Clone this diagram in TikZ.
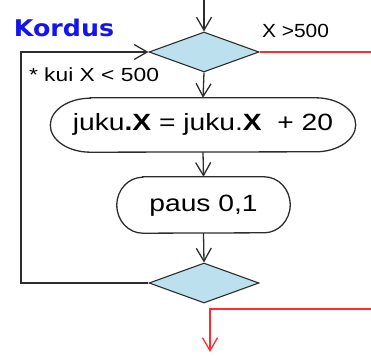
\documentclass[tikz,border=0pt]{standalone}
\usepackage{fontspec}
\setmainfont{Liberation Sans}
\newfontfamily\kordusfont{DejaVu Sans}
\usetikzlibrary{arrows.meta,shapes.geometric}
\definecolor{dfill}{RGB}{188,224,238}
\definecolor{lgray}{RGB}{45,45,45}
\definecolor{rline}{RGB}{255,45,45}
\definecolor{kblue}{RGB}{20,20,240}
\newcommand\stretched[2][1.2]{\scalebox{#1}[1]{#2}}
\newcommand\termoutline[3]{%
  \draw[line] ([xshift=#2]#1.north west) -- ([xshift=-#2]#1.north east)
    arc[start angle=90,end angle=-90,x radius=#2,y radius=#3]
    -- ([xshift=#2]#1.south west)
    arc[start angle=270,end angle=90,x radius=#2,y radius=#3] -- cycle;}
\begin{document}
\begin{tikzpicture}[x=1pt,y=1pt,
  line/.style={draw=lgray,line width=1.3pt},
  redline/.style={draw=rline,line width=1.3pt},
  arr/.style={-{Straight Barb[length=13pt,width=15pt]}},
  decision/.style={diamond,draw=lgray,fill=dfill,line width=1.1pt,
    minimum width=110pt,minimum height=40pt,inner sep=0pt},
  term/.style={rectangle,inner sep=0pt,text height=17pt,text depth=5pt,
    font=\fontsize{23.5}{28}\selectfont},
  lbl/.style={inner sep=0pt,anchor=base,font=\fontsize{19}{22}\selectfont},
]
\useasboundingbox (0,0) rectangle (371,356);

\coordinate (start) at (204,356);
\node[decision] (d1) at (204,304) {};
\node[term,minimum width=305pt,minimum height=54pt] (n1) at (203,231)
  {\stretched{juku\textbf{.X} = juku.\textbf{X}\ \ + 20}};
\node[term,minimum width=173pt,minimum height=56pt] (n2) at (203.5,151)
  {\stretched{paus 0,1}};
\node[decision] (d2) at (204,73) {};

\termoutline{n1}{40pt}{27pt}
\termoutline{n2}{26pt}{28pt}

\node[inner sep=0pt,anchor=base,text=kblue,font=\kordusfont\bfseries\fontsize{23}{26}\selectfont]
  (title) at (64,319.3) {\stretched[1.1]{Kordus}};
\node[lbl] (exit) at (295.5,318) {\stretched[1.1]{X >500}};
\node[lbl] (cond) at (94,274.3) {\stretched{* kui X < 500}};

\coordinate (loopbl) at (21,73);
\coordinate (looptl) at (21,304);
\coordinate (redtop) at (371,304);
\coordinate (redbr) at (371,47);
\coordinate (redbl) at (210,47);
\coordinate (redend) at (210,4);

\draw[line,arr] (start) -- (d1.north);
\draw[line,arr] (d1.south) -- (n1.north);
\draw[line,arr] (n1.south) -- (n2.north);
\draw[line,arr] (n2.south) -- (d2.north);
\draw[line,arr] (d2.west) -- (loopbl) -- (looptl) -- (d1.west);
\draw[redline] (d1.east) -- (redtop);
\draw[redline,arr] (redbr) -- (redbl) -- (redend);
\end{tikzpicture}
\end{document}
